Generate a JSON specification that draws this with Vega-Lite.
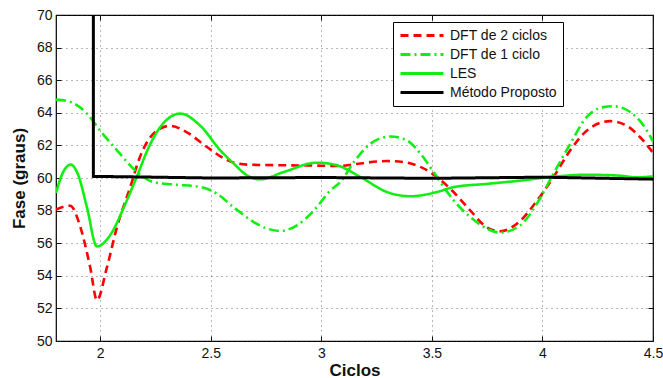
{
  "$schema": "https://vega.github.io/schema/vega-lite/v6.json",
  "width": 597,
  "height": 326,
  "autosize": {"type": "none"},
  "padding": {"left": 56, "top": 15, "right": 10, "bottom": 37},
  "background": "white",
  "config": {
    "font": "Liberation Sans",
    "view": {"stroke": "black", "strokeWidth": 1.2},
    "axis": {
      "labelFont": "Liberation Sans",
      "labelFontSize": 14,
      "labelColor": "#111",
      "titleFont": "Liberation Sans",
      "titleFontSize": 17,
      "titleFontWeight": "bold",
      "titleColor": "#111",
      "domain": false,
      "ticks": true,
      "tickSize": -5,
      "tickColor": "#111",
      "tickWidth": 1,
      "grid": true,
      "gridColor": "#333",
      "gridOpacity": 0.7,
      "gridDash": [1, 4],
      "gridWidth": 1
    }
  },
  "datasets": {
    "curves": [
      {"x": 1.8, "y": 58.06, "s": "DFT de 2 ciclos"},
      {"x": 1.864, "y": 58.3, "s": "DFT de 2 ciclos"},
      {"x": 1.91, "y": 57.0, "s": "DFT de 2 ciclos"},
      {"x": 1.955, "y": 54.5, "s": "DFT de 2 ciclos"},
      {"x": 1.985, "y": 52.5, "s": "DFT de 2 ciclos"},
      {"x": 2.03, "y": 54.5, "s": "DFT de 2 ciclos"},
      {"x": 2.076, "y": 57.0, "s": "DFT de 2 ciclos"},
      {"x": 2.136, "y": 59.45, "s": "DFT de 2 ciclos"},
      {"x": 2.18, "y": 61.3, "s": "DFT de 2 ciclos"},
      {"x": 2.256, "y": 62.9, "s": "DFT de 2 ciclos"},
      {"x": 2.317, "y": 63.2, "s": "DFT de 2 ciclos"},
      {"x": 2.392, "y": 62.8, "s": "DFT de 2 ciclos"},
      {"x": 2.483, "y": 61.9, "s": "DFT de 2 ciclos"},
      {"x": 2.574, "y": 61.1, "s": "DFT de 2 ciclos"},
      {"x": 2.664, "y": 60.82, "s": "DFT de 2 ciclos"},
      {"x": 2.83, "y": 60.78, "s": "DFT de 2 ciclos"},
      {"x": 2.98, "y": 60.76, "s": "DFT de 2 ciclos"},
      {"x": 3.086, "y": 60.74, "s": "DFT de 2 ciclos"},
      {"x": 3.147, "y": 60.84, "s": "DFT de 2 ciclos"},
      {"x": 3.297, "y": 61.04, "s": "DFT de 2 ciclos"},
      {"x": 3.372, "y": 60.98, "s": "DFT de 2 ciclos"},
      {"x": 3.448, "y": 60.68, "s": "DFT de 2 ciclos"},
      {"x": 3.523, "y": 60.06, "s": "DFT de 2 ciclos"},
      {"x": 3.598, "y": 59.14, "s": "DFT de 2 ciclos"},
      {"x": 3.674, "y": 58.0, "s": "DFT de 2 ciclos"},
      {"x": 3.749, "y": 56.97, "s": "DFT de 2 ciclos"},
      {"x": 3.809, "y": 56.73, "s": "DFT de 2 ciclos"},
      {"x": 3.9, "y": 57.38, "s": "DFT de 2 ciclos"},
      {"x": 3.975, "y": 58.6, "s": "DFT de 2 ciclos"},
      {"x": 4.05, "y": 60.06, "s": "DFT de 2 ciclos"},
      {"x": 4.126, "y": 61.7, "s": "DFT de 2 ciclos"},
      {"x": 4.2, "y": 62.9, "s": "DFT de 2 ciclos"},
      {"x": 4.306, "y": 63.49, "s": "DFT de 2 ciclos"},
      {"x": 4.382, "y": 63.2, "s": "DFT de 2 ciclos"},
      {"x": 4.442, "y": 62.5, "s": "DFT de 2 ciclos"},
      {"x": 4.5, "y": 61.55, "s": "DFT de 2 ciclos"},

      {"x": 1.8, "y": 64.81, "s": "DFT de 1 ciclo"},
      {"x": 1.864, "y": 64.67, "s": "DFT de 1 ciclo"},
      {"x": 1.94, "y": 63.95, "s": "DFT de 1 ciclo"},
      {"x": 2.0, "y": 62.9, "s": "DFT de 1 ciclo"},
      {"x": 2.076, "y": 61.7, "s": "DFT de 1 ciclo"},
      {"x": 2.166, "y": 60.37, "s": "DFT de 1 ciclo"},
      {"x": 2.24, "y": 59.75, "s": "DFT de 1 ciclo"},
      {"x": 2.332, "y": 59.6, "s": "DFT de 1 ciclo"},
      {"x": 2.453, "y": 59.45, "s": "DFT de 1 ciclo"},
      {"x": 2.528, "y": 59.04, "s": "DFT de 1 ciclo"},
      {"x": 2.604, "y": 58.2, "s": "DFT de 1 ciclo"},
      {"x": 2.694, "y": 57.3, "s": "DFT de 1 ciclo"},
      {"x": 2.755, "y": 56.9, "s": "DFT de 1 ciclo"},
      {"x": 2.815, "y": 56.75, "s": "DFT de 1 ciclo"},
      {"x": 2.89, "y": 57.1, "s": "DFT de 1 ciclo"},
      {"x": 2.966, "y": 58.0, "s": "DFT de 1 ciclo"},
      {"x": 3.041, "y": 59.24, "s": "DFT de 1 ciclo"},
      {"x": 3.086, "y": 59.75, "s": "DFT de 1 ciclo"},
      {"x": 3.147, "y": 60.98, "s": "DFT de 1 ciclo"},
      {"x": 3.222, "y": 62.1, "s": "DFT de 1 ciclo"},
      {"x": 3.312, "y": 62.55, "s": "DFT de 1 ciclo"},
      {"x": 3.388, "y": 62.3, "s": "DFT de 1 ciclo"},
      {"x": 3.448, "y": 61.5, "s": "DFT de 1 ciclo"},
      {"x": 3.523, "y": 60.06, "s": "DFT de 1 ciclo"},
      {"x": 3.598, "y": 58.63, "s": "DFT de 1 ciclo"},
      {"x": 3.674, "y": 57.6, "s": "DFT de 1 ciclo"},
      {"x": 3.749, "y": 56.89, "s": "DFT de 1 ciclo"},
      {"x": 3.809, "y": 56.65, "s": "DFT de 1 ciclo"},
      {"x": 3.9, "y": 57.1, "s": "DFT de 1 ciclo"},
      {"x": 3.975, "y": 58.43, "s": "DFT de 1 ciclo"},
      {"x": 4.05, "y": 60.27, "s": "DFT de 1 ciclo"},
      {"x": 4.126, "y": 62.1, "s": "DFT de 1 ciclo"},
      {"x": 4.2, "y": 63.74, "s": "DFT de 1 ciclo"},
      {"x": 4.276, "y": 64.35, "s": "DFT de 1 ciclo"},
      {"x": 4.322, "y": 64.4, "s": "DFT de 1 ciclo"},
      {"x": 4.397, "y": 64.05, "s": "DFT de 1 ciclo"},
      {"x": 4.458, "y": 63.2, "s": "DFT de 1 ciclo"},
      {"x": 4.5, "y": 62.25, "s": "DFT de 1 ciclo"},

      {"x": 1.8, "y": 59.08, "s": "LES"},
      {"x": 1.83, "y": 60.3, "s": "LES"},
      {"x": 1.867, "y": 60.82, "s": "LES"},
      {"x": 1.9, "y": 60.2, "s": "LES"},
      {"x": 1.94, "y": 58.2, "s": "LES"},
      {"x": 1.985, "y": 55.8, "s": "LES"},
      {"x": 2.05, "y": 56.6, "s": "LES"},
      {"x": 2.11, "y": 58.3, "s": "LES"},
      {"x": 2.166, "y": 60.1, "s": "LES"},
      {"x": 2.22, "y": 61.9, "s": "LES"},
      {"x": 2.272, "y": 63.13, "s": "LES"},
      {"x": 2.362, "y": 63.95, "s": "LES"},
      {"x": 2.453, "y": 63.2, "s": "LES"},
      {"x": 2.543, "y": 61.7, "s": "LES"},
      {"x": 2.604, "y": 60.88, "s": "LES"},
      {"x": 2.664, "y": 60.16, "s": "LES"},
      {"x": 2.724, "y": 59.92, "s": "LES"},
      {"x": 2.83, "y": 60.37, "s": "LES"},
      {"x": 2.98, "y": 60.94, "s": "LES"},
      {"x": 3.071, "y": 60.78, "s": "LES"},
      {"x": 3.177, "y": 60.06, "s": "LES"},
      {"x": 3.297, "y": 59.14, "s": "LES"},
      {"x": 3.403, "y": 58.88, "s": "LES"},
      {"x": 3.523, "y": 59.14, "s": "LES"},
      {"x": 3.598, "y": 59.44, "s": "LES"},
      {"x": 3.749, "y": 59.64, "s": "LES"},
      {"x": 3.9, "y": 59.84, "s": "LES"},
      {"x": 4.05, "y": 60.08, "s": "LES"},
      {"x": 4.2, "y": 60.2, "s": "LES"},
      {"x": 4.352, "y": 60.14, "s": "LES"},
      {"x": 4.427, "y": 60.04, "s": "LES"},
      {"x": 4.5, "y": 60.1, "s": "LES"}
    ],
    "proposto": [
      {"x": 1.969, "y": 70.5, "s": "Método Proposto"},
      {"x": 1.969, "y": 60.1, "s": "Método Proposto"},
      {"x": 2.2, "y": 60.06, "s": "Método Proposto"},
      {"x": 2.5, "y": 60.0, "s": "Método Proposto"},
      {"x": 3.0, "y": 60.03, "s": "Método Proposto"},
      {"x": 3.5, "y": 59.98, "s": "Método Proposto"},
      {"x": 4.0, "y": 60.05, "s": "Método Proposto"},
      {"x": 4.5, "y": 59.93, "s": "Método Proposto"}
    ]
  },
  "encoding": {
    "color": {
      "field": "s", "type": "nominal",
      "scale": {
        "domain": ["DFT de 2 ciclos", "DFT de 1 ciclo", "LES", "Método Proposto"],
        "range": ["#ff0000", "#11ee11", "#11ee11", "#000000"]
      },
      "legend": {
        "title": null,
        "orient": "none",
        "legendX": 337,
        "legendY": 7,
        "symbolType": "stroke",
        "symbolSize": 1849,
        "symbolStrokeWidth": 3,
        "clipHeight": 15,
        "labelFont": "Liberation Sans",
        "labelFontSize": 14,
        "labelColor": "#111",
        "labelOffset": 5,
        "rowPadding": 4,
        "padding": 6,
        "strokeColor": "black",
        "fillColor": "white"
      }
    },
    "strokeDash": {
      "field": "s", "type": "nominal",
      "scale": {
        "domain": ["DFT de 2 ciclos", "DFT de 1 ciclo", "LES", "Método Proposto"],
        "range": [[8, 5], [10, 4, 2, 4], [1, 0], [1, 0]]
      },
      "legend": null
    }
  },
  "resolve": {"axis": {"x": "independent", "y": "independent"}},
  "layer": [
    {
      "data": {"name": "curves"},
      "mark": {"type": "line", "interpolate": "monotone", "strokeWidth": 2.6, "clip": true},
      "encoding": {
        "x": {
          "field": "x", "type": "quantitative", "title": "Ciclos",
          "scale": {"domain": [1.8, 4.5], "nice": false, "zero": false},
          "axis": {"orient": "bottom", "values": [2, 2.5, 3, 3.5, 4, 4.5], "labelFlush": false, "labelPadding": 10, "titlePadding": 2, "format": "~g"}
        },
        "y": {
          "field": "y", "type": "quantitative", "title": "Fase (graus)",
          "scale": {"domain": [50, 70], "nice": false, "zero": false},
          "axis": {"orient": "left", "values": [50, 52, 54, 56, 58, 60, 62, 64, 66, 68, 70], "labelPadding": 9, "titlePadding": 8}
        }
      }
    },
    {
      "data": {"name": "proposto"},
      "mark": {"type": "line", "interpolate": "linear", "strokeWidth": 3, "clip": true},
      "encoding": {
        "x": {
          "field": "x", "type": "quantitative",
          "axis": {"orient": "top", "values": [2, 2.5, 3, 3.5, 4, 4.5], "labels": false, "title": null, "grid": false}
        },
        "y": {
          "field": "y", "type": "quantitative",
          "axis": {"orient": "right", "values": [50, 52, 54, 56, 58, 60, 62, 64, 66, 68, 70], "labels": false, "title": null, "grid": false}
        }
      }
    }
  ]
}
